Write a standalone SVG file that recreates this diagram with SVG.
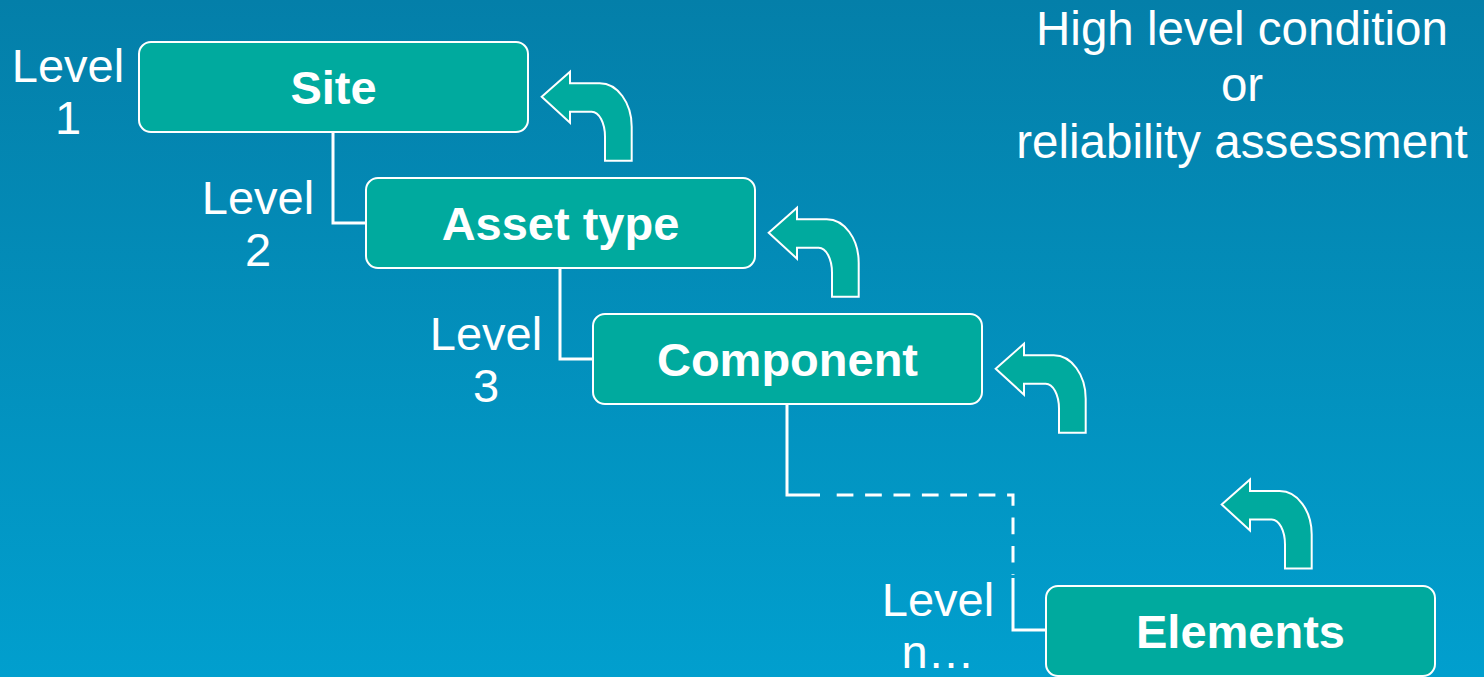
<svg xmlns="http://www.w3.org/2000/svg" width="1484" height="677" viewBox="0 0 1484 677">
<defs>
<linearGradient id="bg" x1="0" y1="0" x2="0" y2="1">
<stop offset="0" stop-color="#047FA9"/>
<stop offset="1" stop-color="#019FCE"/>
</linearGradient>
<path id="arr" d="M0,0 L28.3,-25 L28.3,-13.4 L58,-13.4 A32,43.4 0 0 1 90,30 L90,64 L63.3,64 L63.3,40 A13.3,25 0 0 0 50,15 L28.3,15 L28.3,26 Z"/>
</defs>
<style>
.box{fill:#00AA9E;stroke:#fff;stroke-width:2}
.arrow{fill:#00AA9E;stroke:#fff;stroke-width:2;stroke-linejoin:miter}
.btxt{font-family:"Liberation Sans",Arial,sans-serif;font-weight:bold;font-size:47px;fill:#fff;text-anchor:middle}
.lbl{font-family:"Liberation Sans",Arial,sans-serif;font-size:47px;fill:#fff;text-anchor:middle}
.ttl{font-family:"Liberation Sans",Arial,sans-serif;font-size:47.5px;fill:#fff;text-anchor:middle}
.ln{fill:none;stroke:#fff;stroke-width:3}
.dash{stroke-dasharray:16.7 11.7}
</style>
<rect width="1484" height="677" fill="url(#bg)"/>
<g id="connectors">
<path class="ln" d="M333,132 V223 H366"/>
<path class="ln" d="M560,268 V359 H593"/>
<path class="ln" d="M787,404 V495 H820"/>
<path class="ln dash" d="M836.7,495 H1013 V575"/>
<path class="ln" d="M1013,578 V630 H1046"/>
</g>
<g id="arrows">
<use href="#arr" class="arrow" transform="translate(541.7,96.7)"/>
<use href="#arr" class="arrow" transform="translate(768.7,232.7)"/>
<use href="#arr" class="arrow" transform="translate(995.7,368.7)"/>
<use href="#arr" class="arrow" transform="translate(1221.7,504.5)"/>
</g>
<g id="site">
<rect class="box" x="139" y="42" width="389" height="90" rx="12"/>
<text class="btxt" x="333.5" y="104">Site</text>
</g>
<g id="asset-type">
<rect class="box" x="366" y="178" width="389" height="90" rx="12"/>
<text class="btxt" x="560.5" y="240">Asset type</text>
</g>
<g id="component">
<rect class="box" x="593" y="314" width="389" height="90" rx="12"/>
<text class="btxt" x="787.5" y="376">Component</text>
</g>
<g id="elements">
<rect class="box" x="1046" y="586" width="389" height="90" rx="12"/>
<text class="btxt" x="1240.5" y="648">Elements</text>
</g>
<g id="labels">
<text class="lbl" x="68" y="82">Level</text>
<text class="lbl" x="68" y="134">1</text>
<text class="lbl" x="258" y="214">Level</text>
<text class="lbl" x="258" y="266">2</text>
<text class="lbl" x="486" y="350">Level</text>
<text class="lbl" x="486" y="402">3</text>
<text class="lbl" x="938" y="616">Level</text>
<text class="lbl" x="938" y="668">n…</text>
</g>
<g id="title">
<text class="ttl" x="1242" y="45">High level condition</text>
<text class="ttl" x="1242" y="101">or</text>
<text class="ttl" x="1242" y="158">reliability assessment</text>
</g>
</svg>
